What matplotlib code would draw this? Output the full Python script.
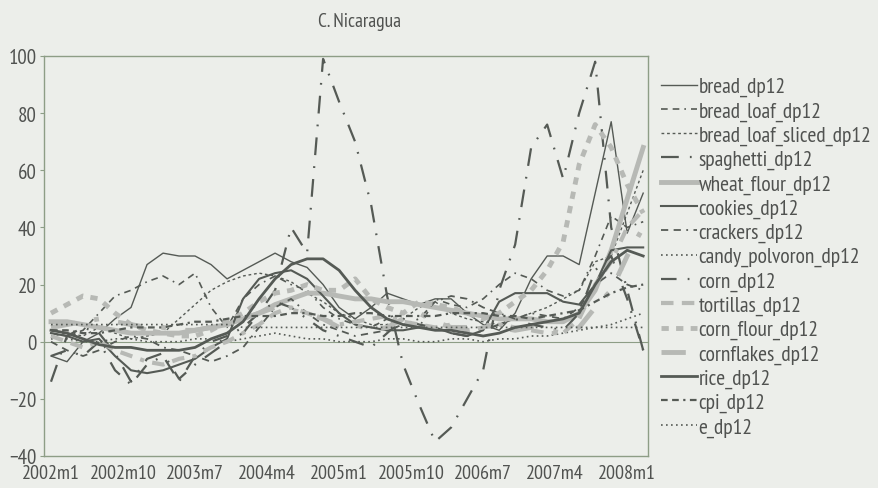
import matplotlib
matplotlib.use("Agg")
from matplotlib import pyplot as plt

plt.rcParams['font.family'] = ['PT Sans Narrow', 'Roboto Condensed', 'Fira Sans Condensed',
                               'Open Sans Condensed', 'DejaVu Sans']

# months since 2002m1, every second month up to 2008m3
months = list(range(0, 75, 2))
tick_months = [0, 9, 18, 27, 36, 45, 54, 63, 72]
tick_labels = ["2002m1", "2002m10", "2003m7", "2004m4", "2005m1",
               "2005m10", "2006m7", "2007m4", "2008m1"]

bread = [-5, -7, 0, 3, 8, 12, 27, 31, 30, 30, 27, 22, 25, 28, 31, 28, 26, 20, 12,
         8, 12, 17, 15, 13, 15, 15, 10, 6, 4, 10, 22, 30, 30, 27, 52, 77, 38, 52]
bread_loaf = [3, 2, 4, 10, 16, 18, 21, 23, 20, 24, 12, 5, 15, 20, 23, 20, 18, 12, 8,
              6, 5, 8, 6, 5, 15, 13, 12, 15, 20, 24, 22, 18, 16, 18, 30, 44, 40, 42]
bread_loaf_sliced = [2, 3, 2, 5, 3, 1, 2, 3, 8, 13, 18, 21, 23, 24, 23, 21, 17, 14, 10,
                     8, 6, 6, 8, 12, 14, 10, 8, 7, 6, 8, 10, 12, 15, 18, 28, 30, 45, 60]
spaghetti = [-14, 2, 5, 3, -4, -14, -6, -4, -13, -8, -4, 0, 3, 10, 18, 40, 31, 99, 84,
             70, 48, 16, -8, -22, -35, -30, -20, -10, 18, 34, 68, 76, 57, 80, 98, 40, 18, -3]
wheat_flour = [7, 7, 6, 5, 4, 3, 3, 3, 3, 4, 5, 6, 8, 10, 13, 15, 17, 17, 16,
               15, 15, 14, 14, 13, 12, 11, 10, 9, 8, 8, 8, 7, 7, 10, 18, 32, 50, 68]
cookies = [3, 2, 0, 1, -5, -10, -11, -10, -8, -6, -2, 1, 15, 22, 24, 25, 22, 16, 10,
           6, 5, 4, 4, 5, 5, 3, 2, 4, 14, 17, 17, 17, 14, 13, 20, 32, 33, 33]
crackers = [0, -3, -5, -3, 0, 2, 1, -2, -3, -5, -7, -5, -2, 5, 12, 15, 10, 6, 4,
            2, 3, 4, 6, 8, 14, 16, 15, 12, 10, 8, 10, 9, 8, 12, 20, 24, 20, 18]
candy_polvoron = [1, 1, 0, 0, 1, 1, 0, 0, 0, 1, 1, 0, 1, 2, 3, 2, 1, 1, 0,
                  0, 0, 1, 1, 0, 0, 1, 1, 0, 1, 1, 2, 2, 3, 4, 5, 6, 8, 10]
corn = [-5, -3, -5, 0, -10, -15, -8, -5, -14, -5, 0, 2, 5, 10, 14, 12, 8, 4, 2,
        0, -2, 3, 8, 6, 5, 3, 2, 4, 6, 8, 6, 5, 4, 10, 25, 30, 15, -3]
tortillas = [2, 0, -2, 0, -3, -5, -7, -8, -6, -5, -2, 0, 3, 6, 10, 12, 10, 8, 6,
             7, 8, 9, 7, 6, 5, 6, 4, 5, 6, 5, 4, 3, 3, 8, 20, 28, 40, 46]
corn_flour = [10, 13, 16, 15, 10, 6, 4, 3, 2, 2, 4, 7, 10, 14, 17, 18, 20, 18, 18,
              22, 15, 12, 10, 14, 13, 12, 10, 8, 10, 14, 18, 25, 35, 62, 76, 68, 55, 45]
cornflakes = [5, 6, 7, 8, 7, 6, 5, 5, 4, 4, 5, 6, 8, 10, 12, 11, 10, 8, 5,
              6, 4, 5, 8, 10, 7, 5, 5, 6, 5, 4, 5, 4, 3, 5, 12, 18, 30, 40]
rice = [4, 3, 1, -1, -2, -2, -3, -3, -3, -2, 1, 3, 7, 15, 22, 27, 29, 29, 25,
        18, 12, 8, 6, 5, 4, 4, 3, 2, 3, 5, 6, 7, 8, 10, 20, 28, 32, 30]
cpi = [4, 4, 3, 3, 4, 5, 5, 5, 6, 7, 7, 8, 9, 9, 9, 10, 10, 9, 9,
       10, 10, 9, 9, 9, 9, 10, 10, 10, 9, 9, 8, 9, 10, 11, 14, 17, 19, 20]
e = [6, 6, 6, 6, 6, 6, 6, 6, 6, 6, 6, 6, 5, 5, 5, 5, 5, 5, 5,
     5, 5, 5, 5, 5, 5, 5, 5, 5, 5, 5, 5, 5, 5, 5, 5, 5, 5, 5]

dark = "#555a55"
light = "#b7b9b5"
bg = "#eceeea"
frame = "#8d9d86"
txt = "#505250"

series = [
    ("bread_dp12", bread, dict(color=dark, lw=1.0, ls="-")),
    ("bread_loaf_dp12", bread_loaf, dict(color=dark, lw=1.2, ls=(0, (4, 3, 4, 3, 1, 3)))),
    ("bread_loaf_sliced_dp12", bread_loaf_sliced, dict(color=dark, lw=1.0, ls=(0, (2, 2)))),
    ("spaghetti_dp12", spaghetti, dict(color=dark, lw=1.6, ls=(0, (8, 5, 0.8, 5)))),
    ("wheat_flour_dp12", wheat_flour, dict(color=light, lw=3.5, ls="-")),
    ("cookies_dp12", cookies, dict(color=dark, lw=1.5, ls="-")),
    ("crackers_dp12", crackers, dict(color=dark, lw=1.3, ls=(0, (4, 3, 4, 3, 1, 3)))),
    ("candy_polvoron_dp12", candy_polvoron, dict(color=dark, lw=1.2, ls=(0, (1, 2)))),
    ("corn_dp12", corn, dict(color=dark, lw=1.6, ls=(0, (7, 5, 0.8, 5)))),
    ("tortillas_dp12", tortillas, dict(color=light, lw=3.0, ls=(0, (3, 2, 3, 2, 1, 2)))),
    ("corn_flour_dp12", corn_flour, dict(color=light, lw=3.5, ls=(0, (1.5, 1.5)))),
    ("cornflakes_dp12", cornflakes, dict(color=light, lw=3.5, ls=(0, (5, 4, 1, 4)))),
    ("rice_dp12", rice, dict(color=dark, lw=2.0, ls="-")),
    ("cpi_dp12", cpi, dict(color=dark, lw=1.6, ls=(0, (3, 2, 3, 2, 1, 2)))),
    ("e_dp12", e, dict(color=dark, lw=1.2, ls=(0, (1, 2)))),
]

fig = plt.figure(figsize=(8.79, 4.89), dpi=100, facecolor=bg)
ax = fig.add_axes([44 / 879, 32 / 489, 604 / 879, 400 / 489], facecolor=bg)

ax.axhline(0, color=frame, lw=0.8, zorder=1)
for name, vals, style in series:
    ax.plot(months, vals, label=name, **style)

ax.set_xlim(-0.875, 74.6)
ax.set_ylim(-40, 100)
ax.set_yticks([-40, -20, 0, 20, 40, 60, 80, 100])
ax.set_xticks(tick_months)
ax.set_xticklabels(tick_labels)
ax.tick_params(axis="y", length=3, width=0.8, color=frame, pad=2.5, labelsize=15, labelcolor=txt)
ax.tick_params(axis="x", length=0, pad=6, labelsize=14.5, labelcolor=txt)
for sp in ax.spines.values():
    sp.set_color(frame)
    sp.set_linewidth(1.0)

fig.text(360 / 879, 1 - 22 / 489, "C. Nicaragua", ha="center", va="center",
         fontsize=14, color=txt)

leg = ax.legend(loc="upper left", bbox_to_anchor=(661 / 879, 1 - 78 / 489),
                bbox_transform=fig.transFigure, frameon=False, fontsize=15.5,
                handlelength=1.65, handletextpad=0.1, labelspacing=0.23,
                borderpad=0, borderaxespad=0)
for t in leg.get_texts():
    t.set_color(txt)

fig.savefig("out.png", dpi=100, facecolor=bg)
